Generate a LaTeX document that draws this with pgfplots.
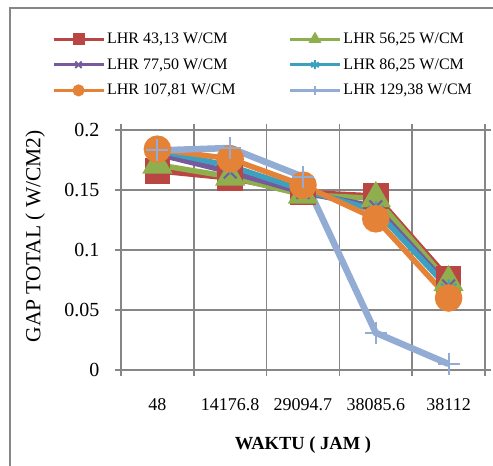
\documentclass[border=0pt]{standalone}
\usepackage{pgfplots}
\pgfplotsset{compat=1.18}
\usepackage{fontspec}
\setmainfont{Liberation Serif}
\definecolor{cred}{RGB}{185,70,66}
\definecolor{cgreen}{RGB}{143,175,78}
\definecolor{cpurple}{RGB}{118,90,155}
\definecolor{cteal}{RGB}{60,160,190}
\definecolor{corange}{RGB}{228,130,55}
\definecolor{cblue}{RGB}{146,172,212}
\definecolor{cgrid}{RGB}{134,134,134}
\begin{document}
\begin{tikzpicture}[x=1pt,y=1pt]
\useasboundingbox (0,0) rectangle (493,466);
\draw[cgrid, line width=1.8pt] (10,-30) rectangle (530,458);
\begin{axis}[
  at={(121pt,96pt)}, anchor=south west,
  scale only axis, width=364pt, height=240pt,
  xmin=0.5, xmax=5.5, ymin=0, ymax=0.2,
  xtick={1,2,3,4,5},
  xticklabels={48,14176.8,29094.7,38085.6,38112},
  minor xtick={0.5,1.5,2.5,3.5,4.5,5.5},
  ytick={0,0.05,0.1,0.15,0.2},
  yticklabels={0,0.05,0.1,0.15,0.2},
  major x tick style={draw=none},
  tick align=outside,
  major tick length=6pt, minor tick length=6pt,
  tick style={cgrid, line width=1.5pt},
  xminorgrids, ymajorgrids,
  grid style={cgrid, line width=1.5pt},
  minor grid style={cgrid, line width=1.5pt},
  axis line style={cgrid, line width=1.5pt},
  xticklabel style={font=\fontsize{18}{20}\selectfont, yshift=-19pt},
  yticklabel style={font=\fontsize{20}{22}\selectfont, xshift=-12pt},
  ylabel={GAP TOTAL ( W/CM2)},
  ylabel style={font=\fontsize{21.5}{24}\selectfont, at={(axis description cs:-0.236,0.557)}, anchor=center, rotate=0},
  xlabel={\textbf{WAKTU ( JAM )}},
  xlabel style={font=\fontsize{18.5}{20}\selectfont, at={(axis description cs:0.5,-0.3125)}, anchor=center},
  legend columns=2,
  legend cell align=left,
  legend style={draw=none, fill=none, at={(axis description cs:-0.19,1.413)}, anchor=north west,
    nodes={font=\fontsize{16}{18}\selectfont}, font=\fontsize{16}{18}\selectfont, inner sep=0pt, row sep=9.5pt,
    /tikz/column 2/.style={column sep=51pt}},
  legend image code/.code={\draw[mark repeat=2,mark phase=2,#1,line width=3pt,mark size=4.5pt] plot coordinates {(0pt,0pt) (25pt,0pt) (50pt,0pt)};},
  every axis plot/.append style={line width=5.5pt},
]
\addplot[cred, mark=square*, mark size=10pt] coordinates {(1,0.166) (2,0.160) (3,0.148) (4,0.145) (5,0.076)};
\addlegendentry{LHR 43,13 W/CM}
\addplot[cgreen, mark=triangle*, mark size=12pt] coordinates {(1,0.171) (2,0.161) (3,0.146) (4,0.143) (5,0.073)};
\addlegendentry{LHR 56,25 W/CM}
\addplot[cpurple, mark=x, mark size=9pt, mark options={line width=2pt}] coordinates {(1,0.180) (2,0.165) (3,0.148) (4,0.136) (5,0.070)};
\addlegendentry{LHR 77,50 W/CM}
\addplot[cteal, mark=asterisk, mark size=9pt, mark options={line width=2pt}] coordinates {(1,0.183) (2,0.170) (3,0.150) (4,0.133) (5,0.068)};
\addlegendentry{LHR 86,25 W/CM}
\addplot[corange, mark=*, mark size=11pt] coordinates {(1,0.184) (2,0.176) (3,0.154) (4,0.126) (5,0.060)};
\addlegendentry{LHR 107,81 W/CM}
\addplot[cblue, mark=+, mark size=11pt, line width=6.5pt, mark options={line width=1.8pt}] coordinates {(1,0.183) (2,0.185) (3,0.161) (4,0.031) (5,0.005)};
\addlegendentry{LHR 129,38 W/CM}
\end{axis}
\end{tikzpicture}
\end{document}
